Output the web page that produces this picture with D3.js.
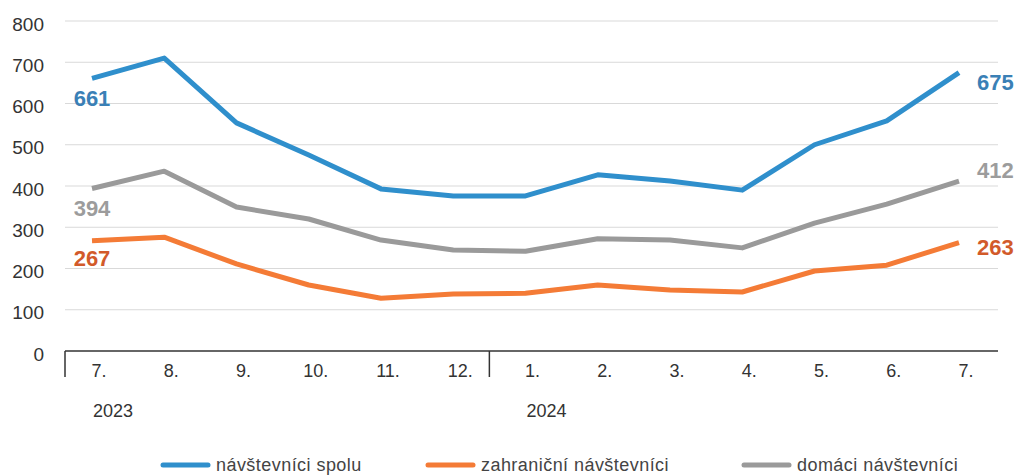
<!DOCTYPE html>
<html>
<head>
<meta charset="utf-8">
<script src="https://cdnjs.cloudflare.com/ajax/libs/d3/7.8.5/d3.min.js"></script>
<style>
  body { margin: 0; background: #fff; }
  svg { font-family: "Liberation Sans", Arial, sans-serif; }
</style>
</head>
<body>
<div id="chart"></div>
<script>
// data
var months = ["7.", "8.", "9.", "10.", "11.", "12.", "1.", "2.", "3.", "4.", "5.", "6.", "7."]
var years = [{label: "2023", from: 0}, {label: "2024", from: 6}]
var total    = [661, 710, 553, 475, 393, 376, 376, 427, 412, 390, 500, 558, 675]
var foreign  = [267, 276, 211, 160, 128, 138, 140, 160, 148, 143, 194, 208, 263]
var domestic = [394, 436, 349, 320, 269, 245, 242, 272, 269, 250, 310, 356, 412]
var yTicks = [0, 100, 200, 300, 400, 500, 600, 700, 800]

var series = [
  {name: "návštevníci spolu", values: total, color: "#2f8fcc", labelColor: "#3a80b6"},
  {name: "zahraniční návštevníci", values: foreign, color: "#f47b36", labelColor: "#d25a2a"},
  {name: "domáci návštevníci", values: domestic, color: "#9a9a9a", labelColor: "#9c9c9c"}
]

// label placement (vertical offset of the end label's centre from its point)
var leftOffset  = [20, 17, 20]
var rightOffset = [10, 5, -11]
var legendX = [163, 428, 744]

var svgWidth = 1017
var svgHeight = 476

var svg = d3.select("#chart")
  .append("svg")
  .attr("width", svgWidth)
  .attr("height", svgHeight)

var x = d3.scalePoint()
  .domain(d3.range(months.length))
  .range([92, 959])

var y = d3.scaleLinear()
  .domain([0, 800])
  .range([351, 21])

var left = 65, right = 998

// gridlines
svg.selectAll(".grid")
  .data(yTicks.filter(function(d){ return d > 0 }))
  .enter()
  .append("line")
  .attr("x1", left)
  .attr("x2", right)
  .attr("y1", function(d){ return y(d) })
  .attr("y2", function(d){ return y(d) })
  .attr("stroke", "#d9d9d9")
  .attr("stroke-width", 1)

// y tick labels
svg.selectAll(".ylab")
  .data(yTicks)
  .enter()
  .append("text")
  .attr("x", 44)
  .attr("y", function(d){ return y(d) + 3 })
  .attr("dy", "0.35em")
  .attr("text-anchor", "end")
  .attr("font-size", 19)
  .attr("fill", "#333")
  .text(function(d){ return d })

// x axis baseline and separators
svg.append("line")
  .attr("x1", left).attr("x2", right)
  .attr("y1", y(0)).attr("y2", y(0))
  .attr("stroke", "#333").attr("stroke-width", 1.5)

var step = x.step()
var seps = [left, x(6) - step / 2]
svg.selectAll(".sep")
  .data(seps)
  .enter()
  .append("line")
  .attr("x1", function(d){ return d })
  .attr("x2", function(d){ return d })
  .attr("y1", y(0))
  .attr("y2", 377)
  .attr("stroke", "#333")
  .attr("stroke-width", 1.5)

// month labels
svg.selectAll(".xlab")
  .data(months)
  .enter()
  .append("text")
  .attr("x", function(d, i){ return x(i) + 7 })
  .attr("y", 377)
  .attr("text-anchor", "middle")
  .attr("font-size", 18)
  .attr("fill", "#333")
  .text(function(d){ return d })

// year labels
svg.selectAll(".year")
  .data(years)
  .enter()
  .append("text")
  .attr("x", function(d){ return x(d.from) + 21 })
  .attr("y", 417)
  .attr("text-anchor", "middle")
  .attr("font-size", 18)
  .attr("fill", "#333")
  .text(function(d){ return d.label })

// lines
var line = d3.line()
  .x(function(d, i){ return x(i) })
  .y(function(d){ return y(d) })

svg.selectAll(".series")
  .data(series)
  .enter()
  .append("path")
  .attr("d", function(d){ return line(d.values) })
  .attr("fill", "none")
  .attr("stroke", function(d){ return d.color })
  .attr("stroke-width", 5)
  .attr("stroke-linejoin", "round")

// end labels
var last = months.length - 1
series.forEach(function(s, i){
  var v0 = s.values[0], v1 = s.values[last]
  svg.append("text")
    .attr("x", x(0))
    .attr("y", y(v0) + leftOffset[i])
    .attr("dy", "0.36em")
    .attr("text-anchor", "middle")
    .attr("font-size", 22)
    .attr("font-weight", "bold")
    .attr("fill", s.labelColor)
    .text(v0)
  svg.append("text")
    .attr("x", x(last) + 18)
    .attr("y", y(v1) + rightOffset[i])
    .attr("dy", "0.36em")
    .attr("font-size", 22)
    .attr("font-weight", "bold")
    .attr("fill", s.labelColor)
    .text(v1)
})

// legend (sits at the very bottom edge, as in the reference)
var legend = svg.selectAll(".legend")
  .data(series)
  .enter()
  .append("g")
  .attr("transform", function(d, i){ return "translate(" + legendX[i] + ",465)" })

legend.append("line")
  .attr("x1", 0).attr("x2", 45)
  .attr("y1", 0).attr("y2", 0)
  .attr("stroke", function(d){ return d.color })
  .attr("stroke-width", 5)
  .attr("stroke-linecap", "round")

legend.append("text")
  .attr("x", 53)
  .attr("y", 0)
  .attr("dy", "0.35em")
  .attr("font-size", 18)
  .attr("letter-spacing", 0.45)
  .attr("fill", "#444")
  .text(function(d){ return d.name })
</script>
</body>
</html>
